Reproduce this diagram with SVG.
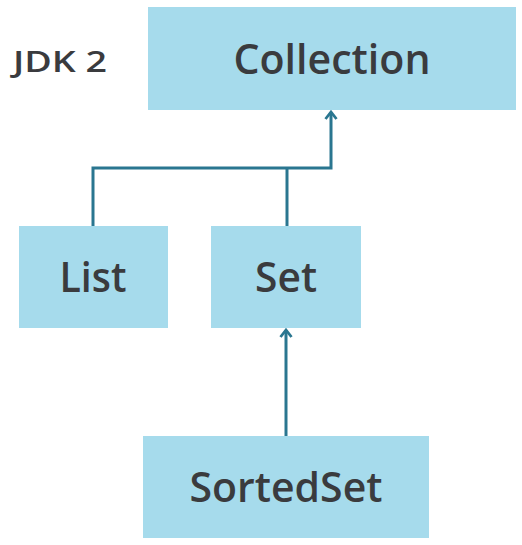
<svg xmlns="http://www.w3.org/2000/svg" width="522" height="545" viewBox="0 0 522 545">
<defs>
<marker id="arr" viewBox="0 0 14 14" refX="11.5" refY="7" markerWidth="14" markerHeight="14" markerUnits="userSpaceOnUse" orient="auto">
<path d="M4.5 1.5 L11.5 7 L4.5 12.5" fill="none" stroke="#2a7690" stroke-width="2.8"/>
</marker>
<style>
.box{fill:#a6dbec}
.lbl{font-family:"Open Sans","Lato",sans-serif;font-weight:600;fill:#3a3b3e;text-anchor:middle}
.conn{fill:none;stroke:#2a7690;stroke-width:3}
</style>
</defs>
<rect width="522" height="545" fill="#ffffff"/>
<text x="60" y="72" class="lbl" font-size="28" textLength="94" lengthAdjust="spacingAndGlyphs">JDK 2</text>
<g id="collection">
<rect class="box" x="148" y="7" width="368" height="103"/>
<text x="332" y="74" class="lbl" font-size="42" textLength="197" lengthAdjust="spacingAndGlyphs">Collection</text>
</g>
<g id="list">
<rect class="box" x="19" y="226" width="149" height="102"/>
<text x="93" y="292" class="lbl" font-size="41" textLength="67" lengthAdjust="spacingAndGlyphs">List</text>
</g>
<g id="set">
<rect class="box" x="211" y="226" width="150" height="102"/>
<text x="286" y="292" class="lbl" font-size="41" textLength="62" lengthAdjust="spacingAndGlyphs">Set</text>
</g>
<g id="sortedset">
<rect class="box" x="143" y="436" width="286" height="102"/>
<text x="286" y="502" class="lbl" font-size="41" textLength="193" lengthAdjust="spacingAndGlyphs">SortedSet</text>
</g>
<g id="connectors">
<path class="conn" d="M93 226 V168 H331 V112" marker-end="url(#arr)"/>
<path class="conn" d="M287 226 V168"/>
<path class="conn" d="M286 436 V330" marker-end="url(#arr)"/>
</g>
</svg>
